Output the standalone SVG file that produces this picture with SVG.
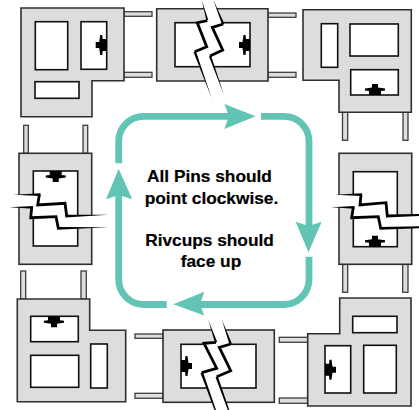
<svg xmlns="http://www.w3.org/2000/svg" xmlns:xlink="http://www.w3.org/1999/xlink" width="419" height="410" viewBox="0 0 419 410">
<style>
.b{fill:#dcddde;stroke:#2f2f31;stroke-width:1.6;stroke-linejoin:miter}
.p{fill:#dcddde;stroke:#3d3d3f;stroke-width:1.3}
.w{fill:#fff;stroke:#111;stroke-width:1.6}
.c{fill:#fff;stroke:none}
.e{fill:none;stroke:#000;stroke-width:2.8;stroke-linejoin:miter;stroke-miterlimit:6}
.t{fill:#000;stroke:none}
.l{fill:none;stroke:#62c4b4;stroke-width:6.8}
.a{fill:#62c4b4;stroke:none}
.x{font-family:"Liberation Sans",Arial,Helvetica,sans-serif;font-weight:700;font-size:17.3px;fill:#000;stroke:#000;stroke-width:.2;text-anchor:middle}
</style>
<defs>
<path id="riv" d="M-6,0V-4L-10,-4.5V-6.5L-3,-7.5V-11H3V-7.5L10,-6.5V-4.5L6,-4V0Z" fill="#000"/>
</defs>
<rect width="419" height="410" fill="#fff"/>

<g id="part-top-left">
<rect class="p" x="124" y="11.7" width="28" height="4.6"/><rect class="p" x="124" y="72.3" width="28" height="5"/>
<path class="b" d="M21,8H124V80.7H92V116.7H21Z"/>
<rect class="w" x="35.3" y="21.7" width="32.4" height="48"/>
<rect class="w" x="81" y="21.7" width="25.7" height="47.6"/>
<rect class="w" x="35" y="81.7" width="44" height="16.6"/>
<use xlink:href="#riv" href="#riv" transform="translate(106.7,45) rotate(-90)"/>
</g>

<g id="part-top-middle">
<rect class="p" x="268" y="13" width="28" height="4.3"/><rect class="p" x="268" y="72.3" width="28" height="5"/>
<path class="b" d="M156.7,8.7H268V81H156.7Z"/>
<rect class="w" x="175" y="22.7" width="75" height="44"/>
<use xlink:href="#riv" href="#riv" transform="translate(250,45) rotate(-90)"/>
<polygon class="c" points="201.7,0 207.3,20.7 197.3,22.7 206.7,46.7 194.7,51.7 211.7,98.3 224,95 210,56 222.7,50 212.3,27.3 223.3,24 213.3,0"/>
<path class="e" d="M207.3,20.7L197.3,22.7L206.7,46.7L194.7,51.7"/>
<path class="e" d="M223.3,24L212.3,27.3L222.7,50L210,56"/>
<polygon class="t" points="201.7,0 206.3,20 208.3,20"/><polygon class="t" points="193.5,52 196,51.5 211.7,98.3"/>
<polygon class="t" points="213.3,0 222,24.5 224.3,23.5"/><polygon class="t" points="209,56.5 211,55.5 224,95"/>
</g>

<g id="part-top-right">
<rect class="p" x="342.5" y="112" width="5.2" height="28.3"/><rect class="p" x="403" y="112" width="5" height="28.3"/>
<path class="b" d="M303,9.7H411.3V112.3H339V80.3H303Z"/>
<rect class="w" x="321.3" y="23.7" width="16.4" height="43.6"/>
<rect class="w" x="350" y="24" width="48.3" height="32"/>
<rect class="w" x="350.7" y="69.7" width="47.6" height="25.3"/>
<use xlink:href="#riv" href="#riv" transform="translate(375,95)"/>
</g>

<g id="part-middle-left">
<rect class="p" x="23.7" y="125.3" width="4.6" height="28"/><rect class="p" x="83" y="125.3" width="4.7" height="28"/>
<rect class="b" x="19" y="153.3" width="72.7" height="111"/>
<rect class="w" x="33.3" y="171" width="44.4" height="75"/>
<use xlink:href="#riv" href="#riv" transform="translate(55.7,171) rotate(180)"/>
<polygon class="c" points="13.3,194.7 39.3,194.7 37.7,205 65,203.3 66.7,216 108.3,214.7 108.3,227.3 58.3,228.3 56,216.7 30.7,217.7 31.7,207.3 9.3,207.3"/>
<path class="e" d="M39.3,194.7L37.7,205L65,203.3L66.7,216"/>
<path class="e" d="M31.7,207.3L30.7,217.7L56,216.7L58.3,228.3"/>
<polygon class="t" points="13.3,194.7 40.5,193.3 40.5,196"/><polygon class="t" points="65.3,214.7 108.3,214.7 65.3,217.4"/>
<polygon class="t" points="9.3,207.3 33,205.9 33,208.7"/><polygon class="t" points="57,227 108.3,227.3 57,229.8"/>
</g>

<g id="part-middle-right">
<rect class="p" x="342.7" y="264" width="5" height="28.3"/><rect class="p" x="402.7" y="264" width="5.3" height="28.3"/>
<rect class="b" x="339" y="153.3" width="72.7" height="111"/>
<rect class="w" x="353.3" y="171.7" width="44" height="75"/>
<use xlink:href="#riv" href="#riv" transform="translate(375,246.7)"/>
<polygon class="c" points="334.3,194.7 361,194.7 360,205 386,202.7 387.3,216 419,214.7 419,227.3 380.7,228.3 378.3,216.7 351.7,217.7 353.3,207.3 331,207.3"/>
<path class="e" d="M361,194.7L360,205L386,202.7L387.3,216"/>
<path class="e" d="M353.3,207.3L351.7,217.7L378.3,216.7L380.7,228.3"/>
<polygon class="t" points="334.3,194.7 362,193.3 362,196"/><polygon class="t" points="386,214.6 419,214 419,216 386,217.4"/>
<polygon class="t" points="331,207.3 354.5,205.9 354.5,208.7"/><polygon class="t" points="379.5,227 419,226.3 419,228.3 379.5,229.7"/>
</g>

<g id="part-bottom-left">
<rect class="p" x="20.7" y="271" width="5" height="28"/><rect class="p" x="81" y="271" width="5.3" height="28"/>
<path class="b" d="M17.3,299H89.7V330.3H125.7V401.7H17.3Z"/>
<rect class="w" x="30.7" y="316.3" width="47.6" height="25.4"/>
<rect class="w" x="30.7" y="355.3" width="48" height="32"/>
<rect class="w" x="90.7" y="344" width="16.6" height="44"/>
<use xlink:href="#riv" href="#riv" transform="translate(54,316.3) rotate(180)"/>
</g>

<g id="part-bottom-middle">
<rect class="p" x="135" y="334" width="28" height="4.3"/><rect class="p" x="135" y="393.3" width="28" height="5"/>
<rect class="b" x="163" y="330" width="111.3" height="72.3"/>
<rect class="w" x="181" y="344.3" width="75" height="43.7"/>
<use xlink:href="#riv" href="#riv" transform="translate(181,366) rotate(90)"/>
<polygon class="c" points="208.3,320 216,342.3 204,343.3 216.7,368.3 201.7,372.7 216,410 229.3,410 216.7,376.7 230.7,370.7 219.3,347.3 230.7,344 221.7,319.3"/>
<path class="e" d="M216,342.3L204,343.3L216.7,368.3L201.7,372.7"/>
<path class="e" d="M230.7,344L219.3,347.3L230.7,370.7L216.7,376.7"/>
<polygon class="t" points="208.3,320 215,342.8 217.2,342"/><polygon class="t" points="200.5,373 203,372.3 216,410 214.5,410"/>
<polygon class="t" points="221.7,319.3 229.5,344.4 231.8,343.6"/><polygon class="t" points="215.5,377.2 217.8,376.2 229.3,410 227.8,410"/>
</g>

<g id="part-bottom-right">
<rect class="p" x="279.3" y="337.3" width="28.4" height="5"/><rect class="p" x="279.3" y="398" width="28.4" height="5.3"/>
<path class="b" d="M339.7,298H411V406H307.7V333.7H339.7Z"/>
<rect class="w" x="352.7" y="316.3" width="44.3" height="16.4"/>
<rect class="w" x="325" y="345.7" width="25.7" height="47.3"/>
<rect class="w" x="363.7" y="345.3" width="32.6" height="47.7"/>
<use xlink:href="#riv" href="#riv" transform="translate(325,369.7) rotate(90)"/>
</g>

<g id="connectors">
<path class="l" d="M118.7,163.3V141.3A25,25 0 0 1 143.7,116.3H230"/>
<polygon class="a" points="255.7,116.3 224.3,104 229,116.3 224.3,129"/>
<path class="l" d="M261,116.3H284A25,25 0 0 1 309,141.3V226"/>
<polygon class="a" points="308.5,252.3 295.7,221.7 308.5,226 321.7,221.7"/>
<path class="l" d="M309,256.7V279.5A25,25 0 0 1 284,304.5H200"/>
<polygon class="a" points="173.3,304.3 204.3,291.7 200,304.3 204.3,315.5"/>
<path class="l" d="M166.7,304.5H143.7A25,25 0 0 1 118.7,279.5V195"/>
<polygon class="a" points="118.7,169 106,199.3 118.7,195 132.3,199.3"/>
</g>

<g id="label">
<text class="x" x="209.5" y="182.3">All Pins should</text>
<text class="x" x="211.5" y="204.3">point clockwise.</text>
<text class="x" x="209.5" y="245.7">Rivcups should</text>
<text class="x" x="211" y="266.7">face up</text>
</g>
</svg>
